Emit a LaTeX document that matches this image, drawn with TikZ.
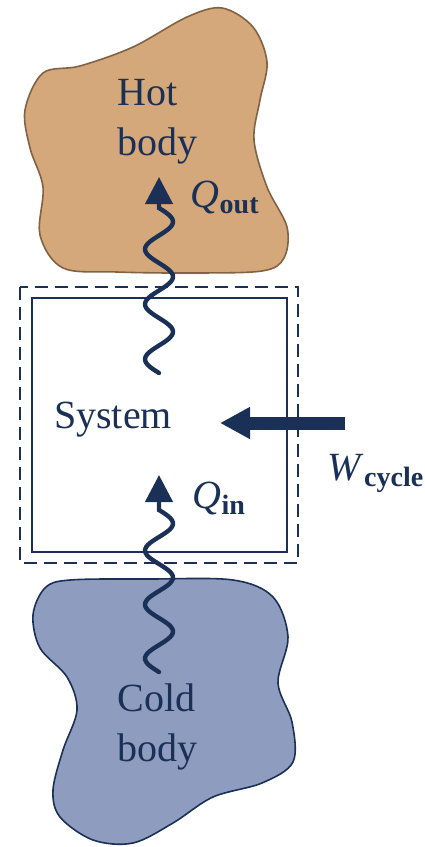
\documentclass[tikz,border=0pt]{standalone}
\usepackage{amsmath}
\usepackage{fontspec}
\setmainfont{Liberation Serif}
\usetikzlibrary{arrows.meta}
\definecolor{navy}{RGB}{27,48,87}
\definecolor{hotfill}{RGB}{212,168,122}
\definecolor{hotline}{RGB}{130,98,66}
\definecolor{coldfill}{RGB}{142,156,192}
\begin{document}
\begin{tikzpicture}[x=0.5pt,y=-0.5pt,style=thick]
			\newcommand{\wamp}{14}
			\useasboundingbox (0,0) rectangle (424,847);
			\tikzstyle{body}=[line width=0.8pt,smooth cycle,tension=0.55]
			\tikzstyle{heat}=[draw=navy,line width=2.2pt,line cap=round,-{Triangle[length=13.5pt,width=13.5pt]}]
			\tikzstyle{txt}=[text=navy,inner sep=0pt,font=\fontsize{20}{25}\selectfont]
			% bodies
			\draw[body,draw=hotline,fill=hotfill] plot coordinates {(25,110) (43,73) (80,66) (133,47) (187,17) (222,8) (253,27) (267,62) (260,100) (254,140) (267,187) (287,227) (284,258) (262,271) (190,273) (117,272) (63,268) (40,235) (43,187) (30,148)};
			\draw[body,draw=navy,fill=coldfill] plot coordinates {(33,615) (45,588) (70,580) (150,579) (233,580) (273,597) (288,637) (278,683) (292,722) (293,762) (262,783) (213,797) (173,823) (133,843) (93,840) (60,817) (53,790) (63,750) (77,710) (67,677) (40,648)};
			% system boundary
			\draw[navy,line width=0.8pt,dash pattern=on 6.5pt off 3.5pt] (20,287) rectangle (298,563);
			\draw[navy,line width=0.8pt] (32,298) rectangle (287,552);
			% labels
			\node[txt,anchor=west,align=left] (hot) at (117,122) {Hot\\body};
			\node[txt,anchor=west,align=left] (cold) at (117,727) {Cold\\body};
			\node[txt] (sys) at (113,420) {System};
			\node[txt,anchor=base west] (qout) at (190,207) {\textit{Q}$_{\textbf{out}}$};
			\node[txt,anchor=base west] (qin) at (192,508) {\textit{Q}$_{\textbf{in}}$};
			\node[txt,anchor=base west] (wcyc) at (327,480) {\textit{W}$_{\textbf{cycle}}$};
			% heat and work
			\coordinate (qoutTip) at (159,177);
			\coordinate (qinTip) at (159,475);
			\coordinate (wTail) at (345,423);
			\coordinate (wTip) at (220,423);
			\draw[heat] plot[variable=\t,domain=373:208,samples=80] ({159-\wamp*sin((373-\t)/55*360)},\t) -- (qoutTip);
			\draw[heat] plot[variable=\t,domain=672:510,samples=80] ({159-\wamp*sin((672-\t)/54*360)},\t) -- (qinTip);
			\draw[navy,line width=6.5pt,-{Triangle[length=15pt,width=15pt]}] (wTail) -- (wTip);
\end{tikzpicture}
\end{document}
